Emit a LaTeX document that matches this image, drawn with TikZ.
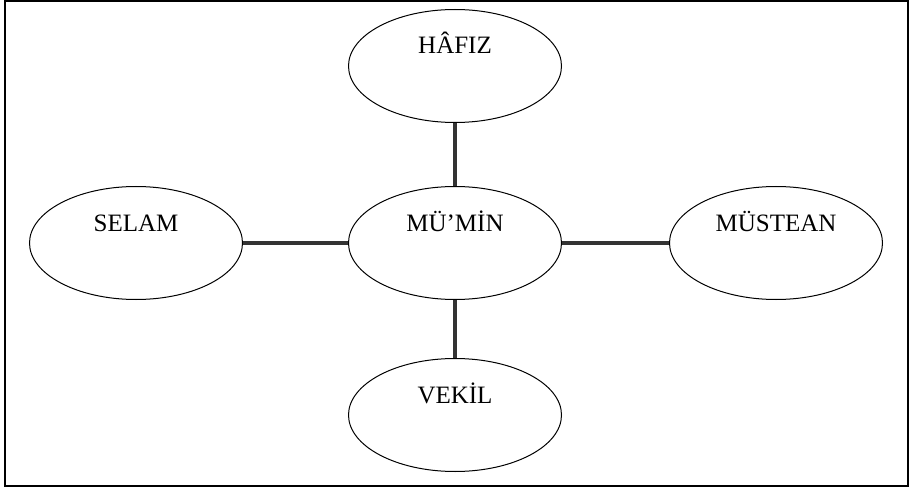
\documentclass[tikz,border=0pt]{standalone}
\usepackage{fontspec}
\setmainfont{Liberation Serif}
\usetikzlibrary{shapes.geometric}

\begin{document}
\begin{tikzpicture}
  [x=1pt,y=-1pt,every node/.style={ellipse,draw,line width=1pt,minimum width=213pt,minimum height=113pt,font=\fontsize{25}{25}\selectfont,text height=17pt,text depth=41pt,inner sep=0pt}]
  \useasboundingbox (0,0) rectangle (918,489);
  \draw[line width=1.5pt] (5,1) rectangle (908,486);

  \node (n1) at (455,66)    {HÂFIZ};
  \node (n2) at (455,243)   {MÜ’MİN};
  \node (n3) at (136,243)   {SELAM};
  \node (n4) at (776,243)   {MÜSTEAN};
  \node (n5) at (455,415)   {VEKİL};

  \foreach \from/\to in {n2/n1,n2/n3,n2/n4,n2/n5}
    \draw[line width=4.5pt,black!80] (\from) -- (\to);
\end{tikzpicture}
\end{document}
